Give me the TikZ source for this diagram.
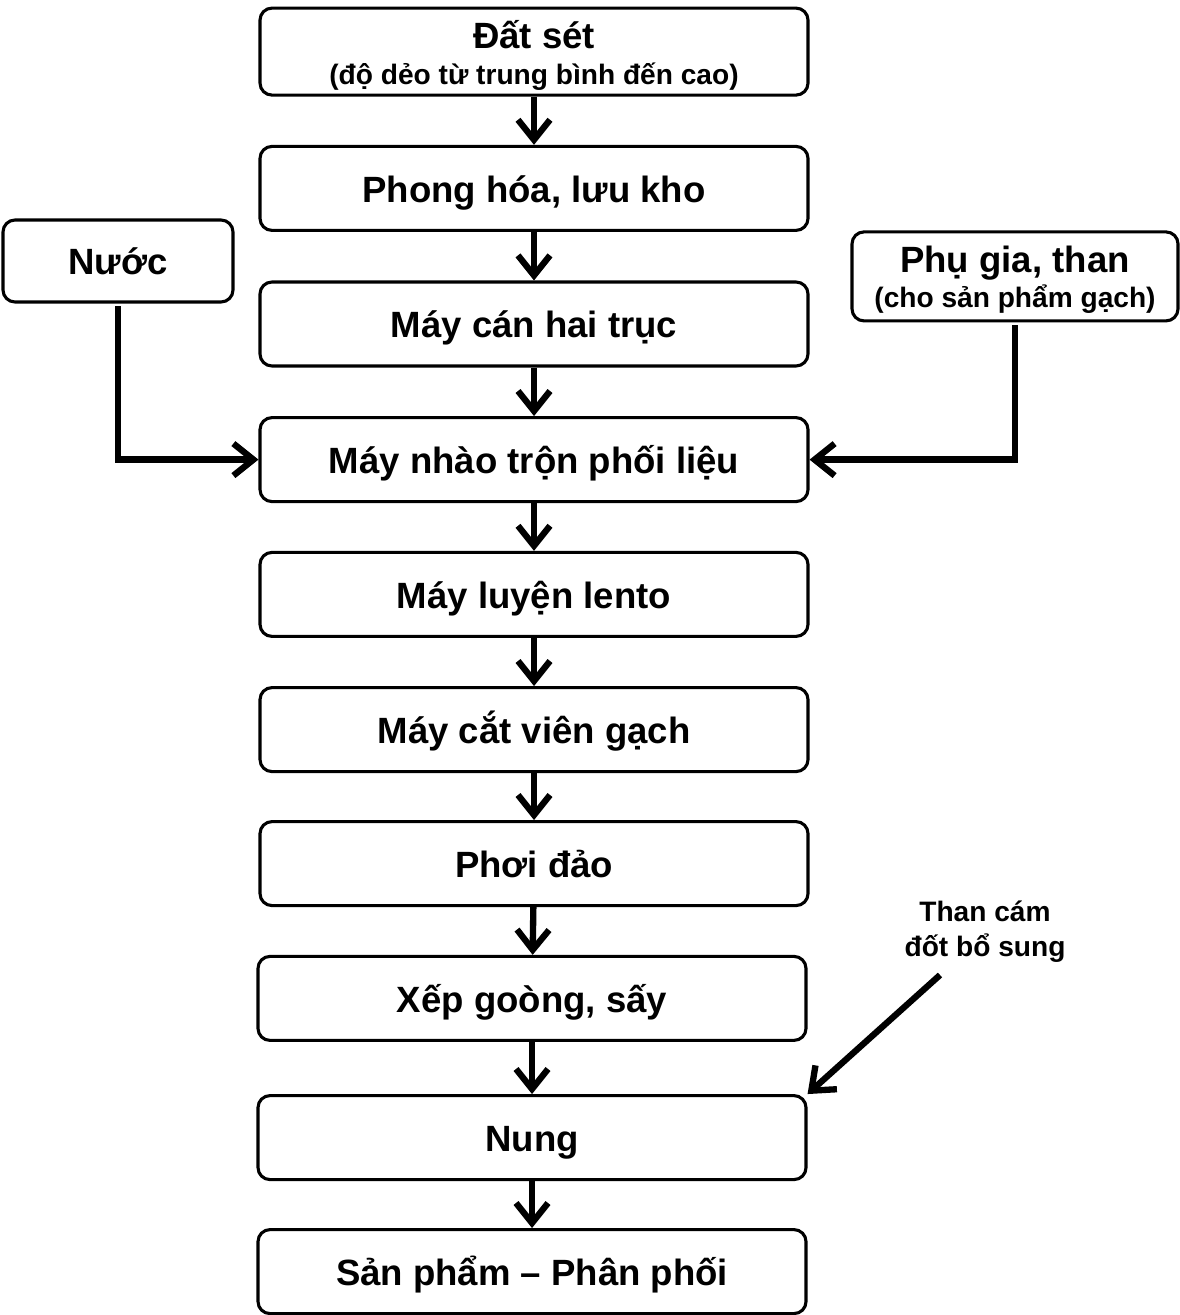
\documentclass[tikz,border=0pt]{standalone}
\usepackage{fontspec}
\setmainfont{Liberation Sans}
\usetikzlibrary{arrows.meta}

\tikzset{
  basebox/.style={draw, line width=2.2pt, rounded corners=0.3cm, minimum width=13.7cm,
    minimum height=2.1cm, align=center, inner sep=0pt,
    font=\bfseries\fontsize{26}{30}\selectfont},
  stepbox/.style={basebox, text height=19.5pt, text depth=0pt},
  sidebox/.style={stepbox, minimum width=5.75cm, minimum height=2.05cm},
  small/.style={font=\bfseries\fontsize{20}{25}\selectfont},
  flow/.style={line width=4.5pt, -{Straight Barb[length=5mm,width=8mm]}}
}

\begin{document}
\begin{tikzpicture}
\useasboundingbox (0,0) rectangle (29.5,-32.875);

 \node[basebox, minimum height=2.175cm] (datset) at (13.35,-1.29)
   {\rule{0pt}{26pt}Đất sét\\[-4.3pt]{\fontsize{20}{24}\selectfont (độ dẻo từ trung bình đến cao)}};
 \node[stepbox] (phonghoa) at (13.35,-4.71) {Phong hóa, lưu kho};
 \node[stepbox] (maycan) at (13.35,-8.10) {Máy cán hai trục};
 \node[stepbox] (nhaotron) at (13.35,-11.49) {Máy nhào trộn phối liệu};
 \node[stepbox] (luyen) at (13.35,-14.86) {Máy luyện lento};
 \node[stepbox] (catvien) at (13.35,-18.24) {Máy cắt viên gạch};
 \node[stepbox] (phoi) at (13.35,-21.59) {Phơi đảo};
 \node[stepbox] (xepgoong) at (13.3,-24.96) {Xếp goòng, sấy};
 \node[stepbox] (nung) at (13.3,-28.44) {Nung};
 \node[stepbox] (sanpham) at (13.3,-31.79) {Sản phẩm -- Phân phối};

 \node[sidebox] (nuoc) at (2.95,-6.525) {Nước};
 \node[basebox, minimum width=8.15cm, minimum height=2.225cm] (phugia) at (25.375,-6.91)
   {\rule{0pt}{24pt}Phụ gia, than\\[-5pt]{\fontsize{20}{24}\selectfont (cho sản phẩm gạch)}};
 \node[small, align=center] (thancam) at (24.625,-23.29) {Than cám\\đốt bổ sung};
 \coordinate (thanstart) at (23.5,-24.375);

 \draw[flow] (datset) -- (phonghoa);
 \draw[flow] (phonghoa) -- (maycan);
 \draw[flow] (maycan) -- (nhaotron);
 \draw[flow] (nhaotron) -- (luyen);
 \draw[flow] (luyen) -- (catvien);
 \draw[flow] (catvien) -- (phoi);
 \draw[flow] (phoi) -- (xepgoong);
 \draw[flow] (xepgoong) -- (nung);
 \draw[flow] (nung) -- (sanpham);

 \draw[flow] ([yshift=-2pt]nuoc.south) |- (nhaotron.west);
 \draw[flow] ([yshift=-2pt]phugia.south) |- (nhaotron.east);
 \draw[flow] (thanstart) -- (nung.north east);
\end{tikzpicture}
\end{document}
